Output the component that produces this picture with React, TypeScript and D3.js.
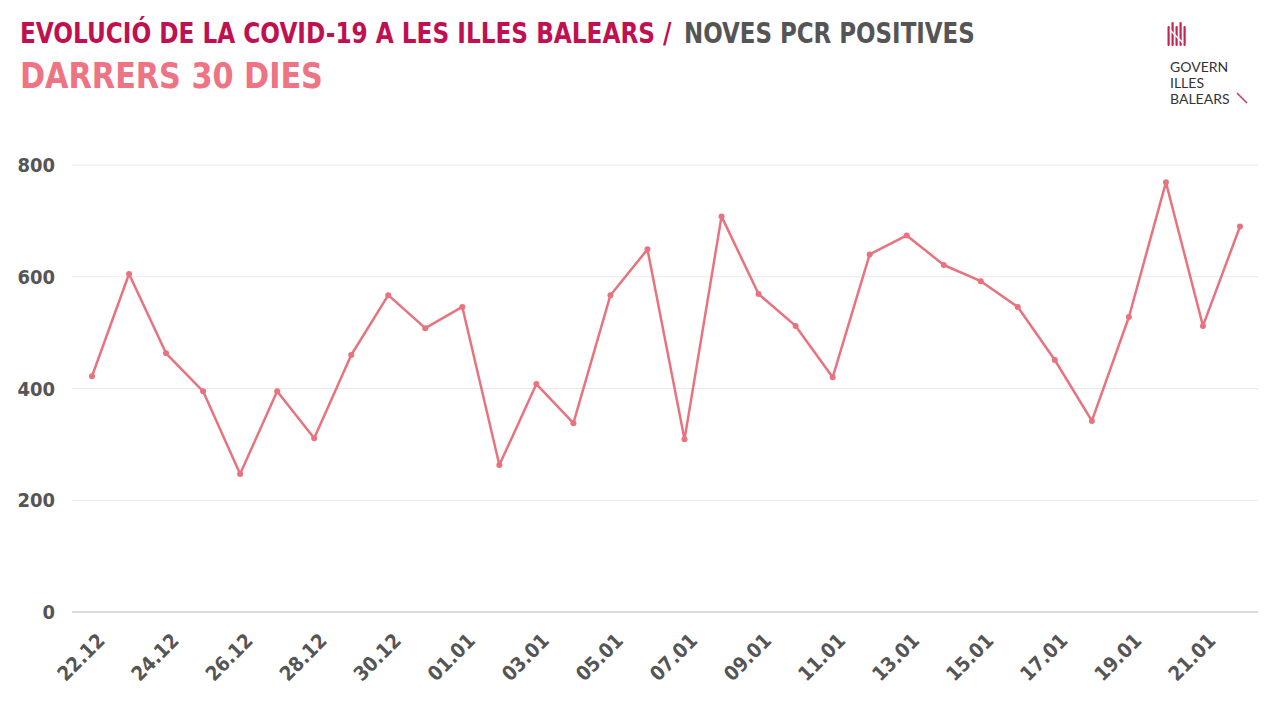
import React, { useLayoutEffect, useRef, useState } from "react";
import * as d3 from "d3";

const dates = [
  "22.12","23.12","24.12","25.12","26.12","27.12","28.12","29.12","30.12","31.12",
  "01.01","02.01","03.01","04.01","05.01","06.01","07.01","08.01","09.01","10.01",
  "11.01","12.01","13.01","14.01","15.01","16.01","17.01","18.01","19.01","20.01",
  "21.01","22.01",
];
const positives = [
  422, 605, 463, 395, 247, 395, 311, 460, 567, 508,
  546, 263, 408, 338, 567, 649, 309, 708, 569, 512,
  420, 640, 674, 621, 592, 546, 451, 342, 528, 769,
  512, 690,
];
const yTicks = [0, 200, 400, 600, 800];
const xTickLabels = dates.filter((_, i) => i % 2 === 0);
const logoLines = ["GOVERN", "ILLES", "BALEARS"];

const W = 1280;
const H = 720;
const FONT = "'DejaVu Sans Condensed', 'DejaVu Sans', sans-serif";
const LINE = "#e8737f";
const GREY = "#555555";

function FitText(props: {
  x: number;
  y: number;
  width: number;
  size: number;
  fill: string;
  children: string;
}) {
  const ref = useRef<SVGTextElement>(null);
  const [sx, setSx] = useState(1);
  useLayoutEffect(() => {
    if (ref.current) {
      const w = ref.current.getComputedTextLength();
      if (w > 0) setSx(props.width / w);
    }
  }, [props.width, props.children]);
  return (
    <text
      ref={ref}
      transform={`translate(${props.x},${props.y}) scale(${sx},1)`}
      fontFamily={FONT}
      fontWeight="bold"
      fontSize={props.size}
      fill={props.fill}
    >
      {props.children}
    </text>
  );
}

export default function App() {
  const x = d3.scalePoint<string>().domain(dates).range([92, 1240]);
  const y = d3.scaleLinear().domain([0, 800]).range([612, 165]);
  const line = d3
    .line<number>()
    .x((_, i) => x(dates[i]) as number)
    .y((d) => y(d));

  return (
    <svg
      width={W}
      height={H}
      style={{ position: "absolute", left: 0, top: 0, background: "#fff" }}
    >
      <rect width={W} height={H} fill="#fff" />
      {/* Titles */}
      <FitText x={20} y={43} width={652} size={29} fill="#c0104f">
        EVOLUCIÓ DE LA COVID-19 A LES ILLES BALEARS /
      </FitText>
      <FitText x={684} y={43} width={291} size={29} fill={GREY}>
        NOVES PCR POSITIVES
      </FitText>
      <FitText x={20} y={88} width={303} size={36} fill="#ee7383">
        DARRERS 30 DIES
      </FitText>

      {/* Logo */}
      <g>
        {[0, 1, 2, 3, 4].map((k) => (
          <rect
            key={k}
            x={1167.5 + k * 4}
            y={k % 2 === 0 ? 26 : 22}
            width={2.2}
            height={k % 2 === 0 ? 20 : 24}
            rx={1}
            fill="#c8234f"
          />
        ))}
        <line x1={1170} y1={30} x2={1183} y2={43} stroke="#fff" strokeWidth={1.5} />
        {logoLines.map((t, i) => (
          <text
            key={t}
            x={1170}
            y={72 + i * 16}
            fontFamily="Lato, sans-serif"
            fontSize={14}
            fill="#333"
          >
            {t}
          </text>
        ))}
        <line x1={1237} y1={93} x2={1247} y2={103} stroke="#d4345a" strokeWidth={1.5} />
      </g>

      {/* Grid */}
      {yTicks.map((t) => (
        <g key={t}>
          <line
            x1={72}
            x2={1258}
            y1={y(t)}
            y2={y(t)}
            stroke={t === 0 ? "#d0d0d0" : "#e8e8e8"}
            strokeWidth={t === 0 ? 1.5 : 1}
          />
          <text
            x={55}
            y={y(t) + 7}
            textAnchor="end"
            fontFamily={FONT}
            fontWeight="bold"
            fontSize={20}
            fill={GREY}
          >
            {t}
          </text>
        </g>
      ))}

      {/* X labels */}
      {xTickLabels.map((d) => {
        const px = (x(d) as number) + 14;
        const py = 642;
        return (
          <text
            key={d}
            x={px}
            y={py}
            transform={`rotate(-45 ${px} ${py})`}
            textAnchor="end"
            fontFamily={FONT}
            fontWeight="bold"
            fontSize={20}
            fill={GREY}
          >
            {d}
          </text>
        );
      })}

      {/* Line */}
      <path d={line(positives) || ""} fill="none" stroke={LINE} strokeWidth={2.5} strokeLinejoin="round" />
      {positives.map((v, i) => (
        <circle key={i} cx={x(dates[i]) as number} cy={y(v)} r={3} fill={LINE} />
      ))}
    </svg>
  );
}
